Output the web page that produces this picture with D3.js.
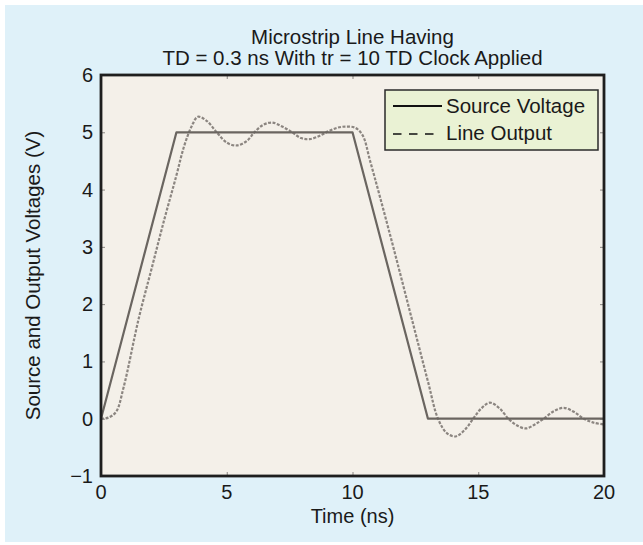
<!DOCTYPE html>
<html>
<head>
<meta charset="utf-8">
<script src="https://cdn.jsdelivr.net/npm/d3@7"></script>
<style>
  html, body { margin: 0; padding: 0; background: #ffffff; }
  text { font-family: "Liberation Sans", Arial, sans-serif; fill: #1a1a1a; }
</style>
</head>
<body>
<svg id="chart" width="643" height="545"></svg>
<script>
// Source clock edge (trapezoid) and the delayed, ringing line output
const sourceTime = [0, 3, 10, 13, 20];
const sourceVolts = [0, 5, 5, 0, 0];

const outputTime = [0, 0.3, 0.6, 0.9, 1.5, 2.0, 2.5, 3.0, 3.3, 3.6, 3.85, 4.2, 4.6, 5.0, 5.4, 5.8,
  6.1, 6.45, 6.8, 7.2, 7.6, 7.95, 8.3, 8.7, 9.05, 9.4, 9.75, 10.1, 10.4, 10.7, 11.5, 12.5, 13.0,
  13.4, 13.75, 14.1, 14.45, 14.8, 15.1, 15.46, 15.85, 16.2, 16.55, 16.9, 17.25, 17.6, 18.0, 18.4,
  18.8, 19.2, 19.6, 20];
const outputVolts = [0, 0.02, 0.12, 0.55, 1.75, 2.6, 3.45, 4.25, 4.75, 5.1, 5.27, 5.2, 5.0, 4.82,
  4.77, 4.85, 5.0, 5.13, 5.17, 5.1, 5.0, 4.9, 4.88, 4.94, 5.02, 5.08, 5.1, 5.08, 4.95, 4.5, 3.2,
  1.5, 0.65, 0.0, -0.25, -0.31, -0.2, 0.0, 0.17, 0.28, 0.18, 0.0, -0.12, -0.17, -0.1, 0.0, 0.13,
  0.19, 0.12, 0.0, -0.07, -0.1];

const xTicks = [0, 5, 10, 15, 20];
const yTicks = [-1, 0, 1, 2, 3, 4, 5, 6];

const titleLines = ["Microstrip Line Having", "TD = 0.3 ns With tr = 10 TD Clock Applied"];
const xLabel = "Time (ns)";
const yLabel = "Source and Output Voltages (V)";
const legendLabels = ["Source Voltage", "Line Output"];

const svg = d3.select("#chart");
const W = 643, H = 545;
const plot = { left: 101, right: 604, top: 75, bottom: 476 };

// panel background
svg.append("rect").attr("x", 5).attr("y", 5).attr("width", W - 5).attr("height", 537)
  .attr("fill", "#dff1f9");

const x = d3.scaleLinear().domain([0, 20]).range([plot.left, plot.right]);
const y = d3.scaleLinear().domain([-1, 6]).range([plot.bottom, plot.top]);

// plotting area
svg.append("rect")
  .attr("x", plot.left).attr("y", plot.top)
  .attr("width", plot.right - plot.left).attr("height", plot.bottom - plot.top)
  .attr("fill", "#f4f0e9");

// inward tick marks on all four sides
const tickLen = 4;
const xAxisB = d3.axisBottom(x).tickValues(xTicks).tickSizeInner(-tickLen).tickSizeOuter(0).tickFormat("");
const xAxisT = d3.axisTop(x).tickValues(xTicks).tickSizeInner(-tickLen).tickSizeOuter(0).tickFormat("");
const yAxisL = d3.axisLeft(y).tickValues(yTicks).tickSizeInner(-tickLen).tickSizeOuter(0).tickFormat("");
const yAxisR = d3.axisRight(y).tickValues(yTicks).tickSizeInner(-tickLen).tickSizeOuter(0).tickFormat("");
[[xAxisB, `translate(0,${plot.bottom})`], [xAxisT, `translate(0,${plot.top})`],
 [yAxisL, `translate(${plot.left},0)`], [yAxisR, `translate(${plot.right},0)`]].forEach(([ax, tr]) => {
  const g = svg.append("g").attr("transform", tr).call(ax);
  g.select(".domain").remove();
  g.selectAll(".tick line").attr("stroke", "#8a8682").attr("stroke-width", 1);
});

// curves
const fmtMinus = d => (d < 0 ? "\u2212" + Math.abs(d) : String(d));
const line = d3.line().x(d => x(d[0])).y(d => y(d[1]));
const smooth = d3.line().x(d => x(d[0])).y(d => y(d[1])).curve(d3.curveCatmullRom.alpha(0.5));

const sourcePts = sourceTime.map((t, i) => [t, sourceVolts[i]]);
const outputPts = outputTime.map((t, i) => [t, outputVolts[i]]);

svg.append("clipPath").attr("id", "plotclip").append("rect")
  .attr("x", plot.left).attr("y", plot.top)
  .attr("width", plot.right - plot.left).attr("height", plot.bottom - plot.top);

const curves = svg.append("g").attr("clip-path", "url(#plotclip)");
curves.append("path").datum(outputPts).attr("d", smooth)
  .attr("fill", "none").attr("stroke", "#8b8580").attr("stroke-width", 2.2)
  .attr("stroke-dasharray", "3,1.5");
curves.append("path").datum(sourcePts).attr("d", line)
  .attr("fill", "none").attr("stroke", "#6a6560").attr("stroke-width", 2.2)
  .attr("stroke-linejoin", "round");

// frame
svg.append("rect")
  .attr("x", plot.left).attr("y", plot.top)
  .attr("width", plot.right - plot.left).attr("height", plot.bottom - plot.top)
  .attr("fill", "none").attr("stroke", "#1e1e1e").attr("stroke-width", 2.8);

// tick labels
svg.append("g").selectAll("text").data(xTicks).join("text")
  .attr("x", d => x(d)).attr("y", plot.bottom + 23)
  .attr("text-anchor", "middle").attr("font-size", 20).text(fmtMinus);
svg.append("g").selectAll("text").data(yTicks).join("text")
  .attr("x", plot.left - 8).attr("y", d => y(d) + 7)
  .attr("text-anchor", "end").attr("font-size", 20).text(fmtMinus);

// axis titles
svg.append("text").attr("x", (plot.left + plot.right) / 2).attr("y", 523)
  .attr("text-anchor", "middle").attr("font-size", 20).text(xLabel);
svg.append("text")
  .attr("transform", `translate(40,${(plot.top + plot.bottom) / 2}) rotate(-90)`)
  .attr("text-anchor", "middle").attr("font-size", 20.5).text(yLabel);

// title
svg.append("g").selectAll("text").data(titleLines).join("text")
  .attr("x", (plot.left + plot.right) / 2).attr("y", (d, i) => 44 + i * 21)
  .attr("text-anchor", "middle").attr("font-size", 20.5).text(d => d);

// legend
const lg = svg.append("g");
lg.append("rect").attr("x", 385).attr("y", 90).attr("width", 213).attr("height", 60)
  .attr("fill", "#eaf2d4").attr("stroke", "#2a2a2a").attr("stroke-width", 1.5);
lg.append("line").attr("x1", 393).attr("x2", 442).attr("y1", 106).attr("y2", 106)
  .attr("stroke", "#111").attr("stroke-width", 1.8);
lg.append("line").attr("x1", 393).attr("x2", 435).attr("y1", 134).attr("y2", 134)
  .attr("stroke", "#111").attr("stroke-width", 1.5).attr("stroke-dasharray", "8.5,7.5");
lg.selectAll("text.lab").data(legendLabels).join("text").attr("class", "lab")
  .attr("x", 446).attr("y", (d, i) => 113 + i * 27)
  .attr("font-size", 20.5).text(d => d);
</script>
</body>
</html>
